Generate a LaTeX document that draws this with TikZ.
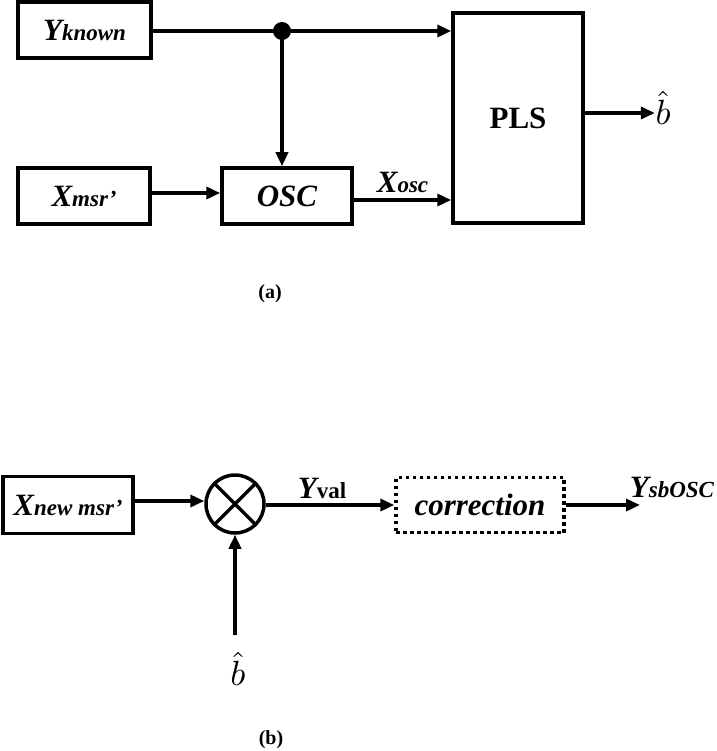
\documentclass[tikz,border=0pt]{standalone}
\usepackage{fontspec}
\setmainfont{Liberation Serif}
\usetikzlibrary{arrows.meta,calc}
\newcommand\mainsz{\fontsize{31}{31}\selectfont\bfseries\itshape}
\newcommand\subsz{\fontsize{23}{23}\selectfont\bfseries\itshape}
\newcommand\lblpair[2]{{\mainsz #1}{\subsz #2}}
\tikzset{
  blk/.style={draw, line width=3.5pt, minimum width=#1, inner sep=0pt},
  blk/.default=130pt,
  conn/.style={line width=3.5pt, -{Triangle[length=14pt,width=12pt]}},
  plain/.style={line width=3.5pt},
  captxt/.style={font=\fontsize{20}{20}\selectfont\bfseries},
  bhat/.style={scale=3.5, inner sep=0pt}
}
\begin{document}
\begin{tikzpicture}[x=1pt,y=-1pt]
\useasboundingbox (0,0) rectangle (716,751);
% ---- (a) ----
\node[blk=133pt, minimum height=56pt] (yk) at (84.5,30) {\lblpair{Y}{known}};
\node[blk=132pt, minimum height=56pt] (xm) at (84,196) {\lblpair{X}{msr’}};
\node[blk=130pt, minimum height=56pt] (osc) at (287,196) {\mainsz OSC};
\node[blk=130pt, minimum height=210pt] (pls) at (518,118) {\fontsize{31}{31}\selectfont\bfseries PLS};
\node[bhat] (bh1) at (663,108) {$\hat{b}$};
\coordinate (jn) at (282,31);
\draw[plain] (yk.east |- jn) -- (jn);
\draw[conn] (jn) -- (pls.west |- jn);
\fill (jn) circle (9pt);
\draw[conn] (jn) -- (jn |- osc.north);
\draw[conn] (xm.east |- 0,193) -- (osc.west |- 0,193);
\draw[conn] (osc.east |- 0,200) -- (pls.west |- 0,200) node[pos=0.5, above=2pt] (xosc) {\lblpair{X}{osc}};
\draw[conn] (pls.east |- 0,113) -- (bh1.west |- 0,113);
\node[captxt] (capa) at (270,294) {(a)};
% ---- (b) ----
\node[blk=130pt, minimum height=57pt] (xn) at (68,505) {\lblpair{X}{new msr’}};
\node[draw, circle, line width=3.5pt, minimum size=58pt, inner sep=0pt] (mul) at (235,504) {};
\draw[plain] (mul.north west) -- (mul.south east);
\draw[plain] (mul.north east) -- (mul.south west);
\node[draw, line width=3.5pt, dash pattern=on 3.5pt off 3.5pt, minimum width=168pt, minimum height=55pt, inner sep=0pt] (corr) at (480,505) {\mainsz correction};
\draw[conn] (xn.east |- 0,501) -- (mul.west |- 0,501);
\draw[conn] (mul.east |- 0,505) -- (corr.west |- 0,505);
\node (yval) at (322,488) {{\mainsz Y}{\fontsize{23}{23}\selectfont\bfseries val}};
\coordinate (yout) at (640,505);
\draw[conn] (corr.east |- 0,505) -- (yout);
\node (ysb) at (672,487) {\lblpair{Y}{sbOSC}};
\node[bhat] (bh2) at (238,669) {$\hat{b}$};
\coordinate (bin) at (235,635);
\draw[conn] (bin) -- (mul.south);
\node[captxt] (capb) at (271,740) {(b)};
\end{tikzpicture}
\end{document}
